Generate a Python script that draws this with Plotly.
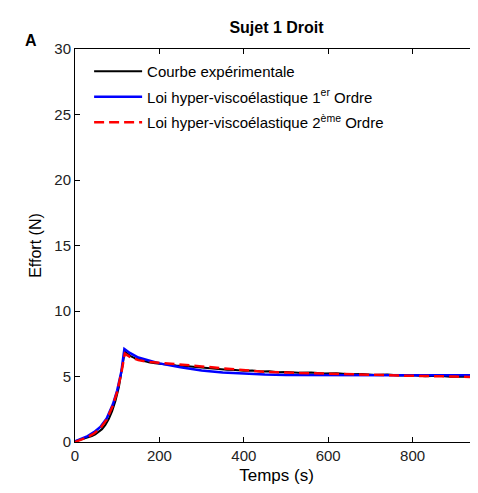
import plotly.graph_objects as go

# Experimental curve (noisy measurement)
t_exp = [0, 8, 16, 24, 32, 40, 48, 56, 64, 72, 80, 88, 96, 104, 112, 118,
         124, 132, 145, 160, 175, 190, 205, 220, 240, 260, 280, 300, 320, 340,
         360, 380, 400, 420, 440, 460, 480, 500, 530, 560, 590, 620, 650, 680,
         710, 740, 770, 800, 830, 860, 890, 920, 950]
f_exp = [0.05, 0.12, 0.2, 0.28, 0.36, 0.45, 0.58, 0.75, 0.98, 1.3, 1.75, 2.35, 3.15, 4.2, 5.6, 6.9,
         6.75, 6.55, 6.35, 6.2, 6.08, 6.02, 5.95, 5.9, 5.84, 5.8, 5.74, 5.7, 5.62, 5.6,
         5.52, 5.5, 5.44, 5.46, 5.38, 5.4, 5.33, 5.35, 5.28, 5.3, 5.22, 5.24, 5.18, 5.2,
         5.12, 5.15, 5.08, 5.1, 5.02, 5.05, 4.98, 5.0, 4.95]

# Hyper-viscoelastic law, 1st order
t_o1 = [0, 15, 30, 45, 60, 75, 90, 100, 110, 117, 130, 150, 175, 200, 250, 300, 350,
        400, 450, 500, 600, 700, 800, 950]
f_o1 = [0.05, 0.25, 0.45, 0.75, 1.15, 1.8, 2.9, 3.95, 5.4, 7.1, 6.8, 6.45, 6.2, 6.0, 5.7,
        5.45, 5.3, 5.2, 5.15, 5.12, 5.1, 5.1, 5.1, 5.1]

# Hyper-viscoelastic law, 2nd order
t_o2 = [0, 15, 30, 45, 60, 75, 90, 100, 110, 118, 130, 150, 175, 200, 250, 300, 350,
        400, 450, 500, 600, 700, 800, 900, 950]
f_o2 = [0.0, 0.18, 0.38, 0.65, 1.05, 1.7, 2.8, 3.85, 5.3, 6.75, 6.5, 6.25, 6.12, 6.05,
        5.9, 5.75, 5.6, 5.45, 5.35, 5.3, 5.2, 5.1, 5.05, 5.0, 4.95]

fig = go.Figure()
fig.add_trace(go.Scatter(x=t_exp, y=f_exp, mode="lines", name="Courbe expérimentale",
                         legendgroup="a", line=dict(color="black", width=2)))
fig.add_trace(go.Scatter(x=t_o1, y=f_o1, mode="lines",
                         name="Loi hyper-viscoélastique 1<sup>er</sup> Ordre",
                         legendgroup="b", line=dict(color="#0000ff", width=2.5)))
fig.add_trace(go.Scatter(x=t_o2, y=f_o2, mode="lines",
                         name="Loi hyper-viscoélastique 2<sup>ème</sup> Ordre",
                         legendgroup="c",
                         line=dict(color="#ff0000", width=2.5, dash="10px,5px")))

axis_style = dict(showgrid=False, zeroline=False, showline=True, linecolor="black",
                  linewidth=1, mirror="ticks", ticks="inside", ticklen=5,
                  tickcolor="black", tickfont=dict(size=15, color="#222"),
                  automargin=False)

# page body adds 8px around the figure; keep it inside the window (no scrollbars)
fig.update_layout(
    width=470, height=477,
    margin=dict(l=67, r=0, t=41, b=43),
    paper_bgcolor="white", plot_bgcolor="white",
    font=dict(family="Liberation Sans, Arial, sans-serif", color="black"),
    title=dict(text="<b>Sujet 1 Droit</b>", x=0.5, xref="paper", y=1 - 19 / 477,
               yref="container", yanchor="middle", font=dict(size=16)),
    xaxis=dict(range=[0, 955], tickvals=[0, 200, 400, 600, 800],
               title=dict(text="Temps (s)", font=dict(size=17), standoff=11), **axis_style),
    yaxis=dict(range=[0, 30], tickvals=[0, 5, 10, 15, 20, 25, 30],
               title=dict(text="Effort (N)", font=dict(size=16), standoff=8), **axis_style),
    legend=dict(x=0.035, y=0.985, xanchor="left", yanchor="top", bgcolor="rgba(0,0,0,0)",
                font=dict(size=15), itemwidth=48, tracegroupgap=3),
    annotations=[dict(text="<b>A</b>", x=-0.13, y=1.048, xref="paper", yref="paper",
                      showarrow=False, font=dict(size=16))],
)

fig.write_html("out.html")
